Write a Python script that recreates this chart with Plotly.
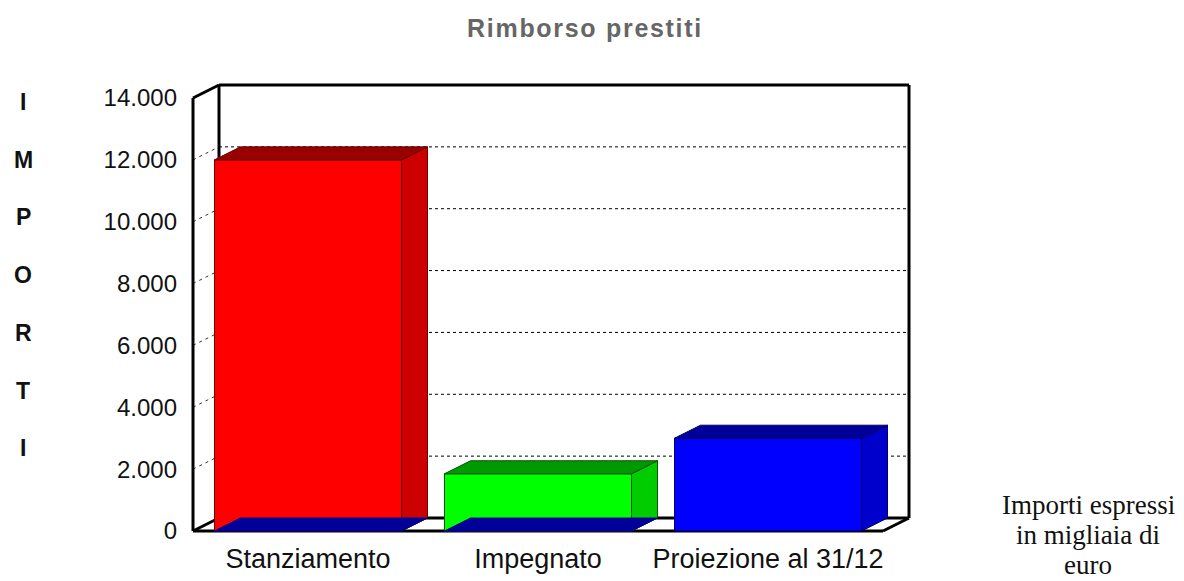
import plotly.graph_objects as go

categories = ["Stanziamento", "Impegnato", "Proiezione al 31/12"]
values = [12000, 1850, 3000]
front_colors = ["#FF0000", "#00FF00", "#0000FF"]
side_colors = ["#CC0000", "#00CC00", "#0000CC"]
top_colors = ["#990000", "#009900", "#000099"]
edge_colors = ["#660000", "#005500", "#000066"]
floor_color = "#000099"
tick_values = [0, 2000, 4000, 6000, 8000, 10000, 12000, 14000]
tick_labels = ["0", "2.000", "4.000", "6.000", "8.000", "10.000", "12.000", "14.000"]
axis_letters = ["I", "M", "P", "O", "R", "T", "I"]
note_lines = ["Importi espressi", "in migliaia di", "euro"]

# pixel geometry of the fake 3d box
FRONT_LEFT, FRONT_BOTTOM, FRONT_TOP = 193, 531, 98
PX_PER_CAT = 230
DEPTH_X_PX, DEPTH_Y_PX = 26, 13
BAR_WIDTH = 187 / PX_PER_CAT
PAD = 6
WIDTH, HEIGHT = 1184, 581

Y_MAX = tick_values[-1]
px_per_val = (FRONT_BOTTOM - FRONT_TOP) / Y_MAX
dx = DEPTH_X_PX / PX_PER_CAT
dy = DEPTH_Y_PX / px_per_val
x_lo, x_hi = -0.5, len(categories) - 0.5

margin_l = FRONT_LEFT - PAD
margin_r = WIDTH - (FRONT_LEFT + len(categories) * PX_PER_CAT + DEPTH_X_PX + PAD)
margin_t = FRONT_TOP - DEPTH_Y_PX - PAD
margin_b = HEIGHT - FRONT_BOTTOM - PAD
plot_w = WIDTH - margin_l - margin_r
plot_h = HEIGHT - margin_t - margin_b


def paper_x(px):
    return (px - margin_l) / plot_w


def paper_y(py):
    return 1 - (py - margin_t) / plot_h


def line_shape(x0, y0, x1, y1, width=3, dash="solid", color="#000000"):
    return dict(
        type="line", layer="below", x0=x0, y0=y0, x1=x1, y1=y1,
        line=dict(color=color, width=width, dash=dash),
    )


shapes = [
    # floor
    dict(
        type="path", layer="below", fillcolor="#FFFFFF", line=dict(width=0),
        path=f"M {x_lo} 0 L {x_lo + dx} {dy} L {x_hi + dx} {dy} L {x_hi} 0 Z",
    ),
]

for tick in tick_values[1:-1]:
    shapes.append(line_shape(x_lo, tick, x_lo + dx, tick + dy, 1, "3px,4px", "#333333"))
    shapes.append(line_shape(x_lo + dx, tick + dy, x_hi + dx, tick + dy, 1, "3px,3px"))

# frame
shapes += [
    line_shape(x_lo, 0, x_lo, Y_MAX),
    line_shape(x_lo, Y_MAX, x_lo + dx, Y_MAX + dy),
    line_shape(x_lo + dx, dy, x_lo + dx, Y_MAX + dy),
    line_shape(x_lo + dx, Y_MAX + dy, x_hi + dx, Y_MAX + dy),
    line_shape(x_hi + dx, dy, x_hi + dx, Y_MAX + dy),
    line_shape(x_lo + dx, dy, x_hi + dx, dy),
    line_shape(x_lo, 0, x_hi, 0),
    line_shape(x_lo, 0, x_lo + dx, dy),
    line_shape(x_hi, 0, x_hi + dx, dy),
]

fig = go.Figure()

positions = list(range(len(categories)))
fig.add_trace(
    go.Bar(
        x=positions,
        y=values,
        width=BAR_WIDTH,
        marker=dict(color=front_colors, line=dict(color=edge_colors, width=1)),
        hoverinfo="skip",
    )
)

half = BAR_WIDTH / 2
for pos, val, side, top, edge in zip(positions, values, side_colors, top_colors, edge_colors):
    fig.add_trace(
        go.Scatter(
            x=[pos + half, pos + half + dx, pos + half + dx, pos + half, pos + half],
            y=[0, dy, val + dy, val, 0],
            mode="lines", fill="toself", fillcolor=side,
            line=dict(color=edge, width=1), hoverinfo="skip",
        )
    )
    fig.add_trace(
        go.Scatter(
            x=[pos - half, pos - half + dx, pos + half + dx, pos + half, pos - half],
            y=[val, val + dy, val + dy, val, val],
            mode="lines", fill="toself", fillcolor=top,
            line=dict(color=edge, width=1), hoverinfo="skip",
        )
    )

# the bar footprint shows through the first two bars, the last one hides it
for pos in positions[:-1]:
    fig.add_trace(
        go.Scatter(
            x=[pos - half, pos - half + dx, pos + half + dx, pos + half, pos - half],
            y=[0, dy, dy, 0, 0],
            mode="lines", fill="toself", fillcolor=floor_color,
            line=dict(color=floor_color, width=1), hoverinfo="skip",
        )
    )

annotations = []
for i, letter in enumerate(axis_letters):
    annotations.append(
        dict(
            text=letter, xref="paper", yref="paper", showarrow=False,
            x=paper_x(23), y=paper_y(102 + 57.7 * i), xanchor="center", yanchor="middle",
            font=dict(family="Liberation Sans", size=23, color="#111111", weight="bold"),
        )
    )
for i, line in enumerate(note_lines):
    annotations.append(
        dict(
            text=line, xref="paper", yref="paper", showarrow=False,
            x=paper_x(1088), y=paper_y(505 + 30 * i), xanchor="center", yanchor="middle",
            font=dict(family="Liberation Serif", size=27, color="#111111"),
        )
    )

fig.update_layout(
    width=WIDTH,
    height=HEIGHT,
    autosize=False,
    showlegend=False,
    paper_bgcolor="#FFFFFF",
    plot_bgcolor="#FFFFFF",
    margin=dict(l=margin_l, r=margin_r, t=margin_t, b=margin_b, autoexpand=False),
    title=dict(
        text="Rimborso prestiti",
        x=585 / WIDTH,
        xanchor="center",
        y=1 - 28 / HEIGHT,
        yanchor="middle",
        font=dict(family="Liberation Sans", size=25, color="#666666", weight="bold"),
    ),
    font=dict(family="Liberation Sans", size=24, color="#111111"),
    shapes=shapes,
    annotations=annotations,
)
fig.update_xaxes(
    range=[x_lo - PAD / PX_PER_CAT, x_hi + dx + PAD / PX_PER_CAT],
    tickvals=positions,
    ticktext=categories,
    tickfont=dict(size=27),
    showgrid=False,
    zeroline=False,
    showline=False,
    ticks="",
    ticklabelstandoff=3,
)
fig.update_yaxes(
    range=[-PAD / px_per_val, Y_MAX + dy + PAD / px_per_val],
    tickvals=tick_values,
    ticktext=tick_labels,
    showgrid=False,
    zeroline=False,
    showline=False,
    ticks="",
    ticklabelstandoff=9,
)

# drop the page margin so pixels line up, and space out the title like the original
post_script = (
    "document.body.style.margin='0';"
    "document.querySelector('.gtitle').style.letterSpacing='1.7px';"
)
fig.write_html("out.html", config={"displayModeBar": False}, post_script=post_script)
